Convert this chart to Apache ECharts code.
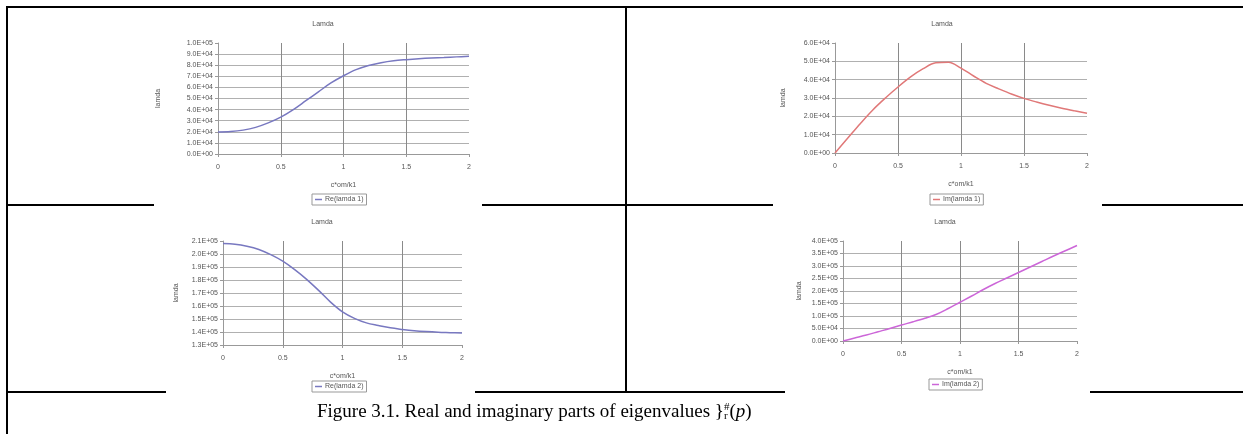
<!DOCTYPE html>
<html>
<head>
<meta charset="utf-8">
<script src="https://cdn.jsdelivr.net/npm/echarts@6/dist/echarts.min.js"></script>
<style>
html,body{margin:0;padding:0;background:#fff;}
#wrap{position:relative;width:1243px;height:434px;overflow:hidden;}
#chart{position:absolute;left:0;top:0;width:1243px;height:434px;}
.ln{position:absolute;background:#000;z-index:2;}
#cap{position:absolute;left:317px;top:400px;font-family:"Liberation Serif","DejaVu Serif",serif;font-size:19px;color:#000;white-space:nowrap;z-index:2;}
.ss{display:inline-block;vertical-align:middle;line-height:9px;font-size:11px;text-align:left;position:relative;top:-2px;}
</style>
</head>
<body>
<div id="wrap">
<div id="chart"></div>
<!-- table borders -->
<div class="ln" style="left:6px;top:6px;width:1237px;height:2px;"></div>
<div class="ln" style="left:6px;top:6px;width:2px;height:428px;"></div>
<div class="ln" style="left:625px;top:6px;width:2px;height:387px;"></div>
<div class="ln" style="left:6px;top:204px;width:148px;height:2px;"></div>
<div class="ln" style="left:482px;top:204px;width:291px;height:2px;"></div>
<div class="ln" style="left:1102px;top:204px;width:141px;height:2px;"></div>
<div class="ln" style="left:6px;top:391px;width:160px;height:2px;"></div>
<div class="ln" style="left:475px;top:391px;width:310px;height:2px;"></div>
<div class="ln" style="left:1090px;top:391px;width:153px;height:2px;"></div>
<div id="cap">Figure 3.1. Real and imaginary parts of eigenvalues }<span class="ss">#<br>r</span>(<i>p</i>)</div>
</div>
<script>
// ---- data ----
var xValues = [0,0.1,0.2,0.3,0.4,0.5,0.6,0.7,0.8,0.9,1.0,1.1,1.2,1.3,1.4,1.5,1.6,1.7,1.8,1.9,2.0];
var reLamda1 = [19800,20200,21500,24000,28000,33200,40000,48000,56000,64000,70500,76000,79800,82300,84000,85000,85800,86500,87000,87500,88000];
var imLamda1 = [0,8000,16000,23500,30000,36000,41500,46000,49200,49500,46300,42000,38000,35000,32200,29800,27800,26000,24400,23000,21700];
var reLamda2 = [208000,207500,206000,203500,199500,194500,188000,180500,172000,163000,155500,150500,147000,145000,143200,142000,141000,140300,139800,139500,139200];
var imLamda2 = [0,12000,24000,37000,50000,64000,77000,91000,107000,130000,155000,180000,206000,230000,252000,274000,296000,318000,340000,361000,382000];
var xTicks = ['0','0.5','1','1.5','2'];
var chartTitle = 'Lamda';
var xName = 'c*om/k1';
var yName = 'lamda';
var seriesNames = ['Re(lamda 1)','Im(lamda 1)','Re(lamda 2)','Im(lamda 2)'];
var seriesData = [reLamda1, imLamda1, reLamda2, imLamda2];
var yMin = [0, 0, 130000, 0];
var yMax = [100000, 60000, 210000, 400000];
var yStep = [10000, 10000, 10000, 50000];
var colors = ['#7878c0','#e07878','#7878c0','#cc66d8'];

// ---- layout ----
var grids = [
  {left:218, top:43, width:251, height:111},
  {left:835, top:43, width:252, height:110},
  {left:223, top:241, width:239, height:104},
  {left:843, top:241, width:234, height:100}
];
var titlePos = [[318,16],[937,16],[317,214],[940,214]];
var yNameGap = [56, 48, 43, 40];
var legendPos = [[312,194],[930,194],[312,381],[929,379]];

function sci(v){
  if (v === 0) return '0.0E+00';
  var e = Math.floor(Math.log10(Math.abs(v)) + 1e-9);
  var m = v / Math.pow(10, e);
  return m.toFixed(1) + 'E+' + (e < 10 ? '0' + e : e);
}
var font = '"Liberation Sans", Arial, sans-serif';
var txt = '#555';

var option = {
  animation:false,
  backgroundColor:'transparent',
  title:[], grid:[], xAxis:[], yAxis:[], series:[], legend:[]
};
for (var i=0;i<4;i++){
  option.title.push({text:chartTitle, left:titlePos[i][0], top:titlePos[i][1], textAlign:'center',
    textStyle:{fontFamily:font,fontSize:7,fontWeight:'normal',color:txt}});
  option.grid.push({left:grids[i].left, top:grids[i].top, width:grids[i].width, height:grids[i].height, containLabel:false});
  option.xAxis.push({type:'value', gridIndex:i, min:0, max:2, interval:0.5,
    name:xName, nameLocation:'middle', nameGap:28,
    nameTextStyle:{fontFamily:font,fontSize:7,color:txt},
    axisLine:{lineStyle:{color:'#999',width:1}},
    axisTick:{show:true,length:3,lineStyle:{color:'#999'}},
    axisLabel:{fontFamily:font,fontSize:7,color:txt,margin:10,
      formatter:function(v){ return xTicks[Math.round(v/0.5)]; }},
    splitLine:{show:true, showMinLine:false, showMaxLine:false, lineStyle:{color:'#8a8a8a',width:1}}
  });
  option.yAxis.push({type:'value', gridIndex:i, min:yMin[i], max:yMax[i], interval:yStep[i],
    name:yName, nameLocation:'middle', nameGap:yNameGap[i], nameRotate:90,
    nameTextStyle:{fontFamily:font,fontSize:7,color:txt},
    axisLine:{show:true,lineStyle:{color:'#999',width:1}},
    axisTick:{show:true,length:3,lineStyle:{color:'#999'}},
    axisLabel:{fontFamily:font,fontSize:7,color:txt,margin:5,formatter:sci},
    splitLine:{show:true, showMinLine:false, showMaxLine:false, lineStyle:{color:'#b0b0b0',width:1}}
  });
  var pts = xValues.map(function(x,k){ return [x, seriesData[i][k]]; });
  option.series.push({type:'line', name:seriesNames[i], xAxisIndex:i, yAxisIndex:i,
    data:pts, smooth:0.35, showSymbol:false, symbol:'none',
    lineStyle:{color:colors[i], width:1.5}, itemStyle:{color:colors[i]}});
  option.legend.push({data:[seriesNames[i]], left:legendPos[i][0], top:legendPos[i][1],
    orient:'horizontal', borderColor:'#999', borderWidth:1, padding:[2,3,2,3],
    itemWidth:7, itemHeight:1.5, itemGap:2, icon:'rect',
    textStyle:{fontFamily:font,fontSize:7,color:txt,padding:[0,0,0,-2]}});
}
var chart = echarts.init(document.getElementById('chart'), null, {renderer:'canvas'});
chart.setOption(option);
</script>
</body>
</html>
